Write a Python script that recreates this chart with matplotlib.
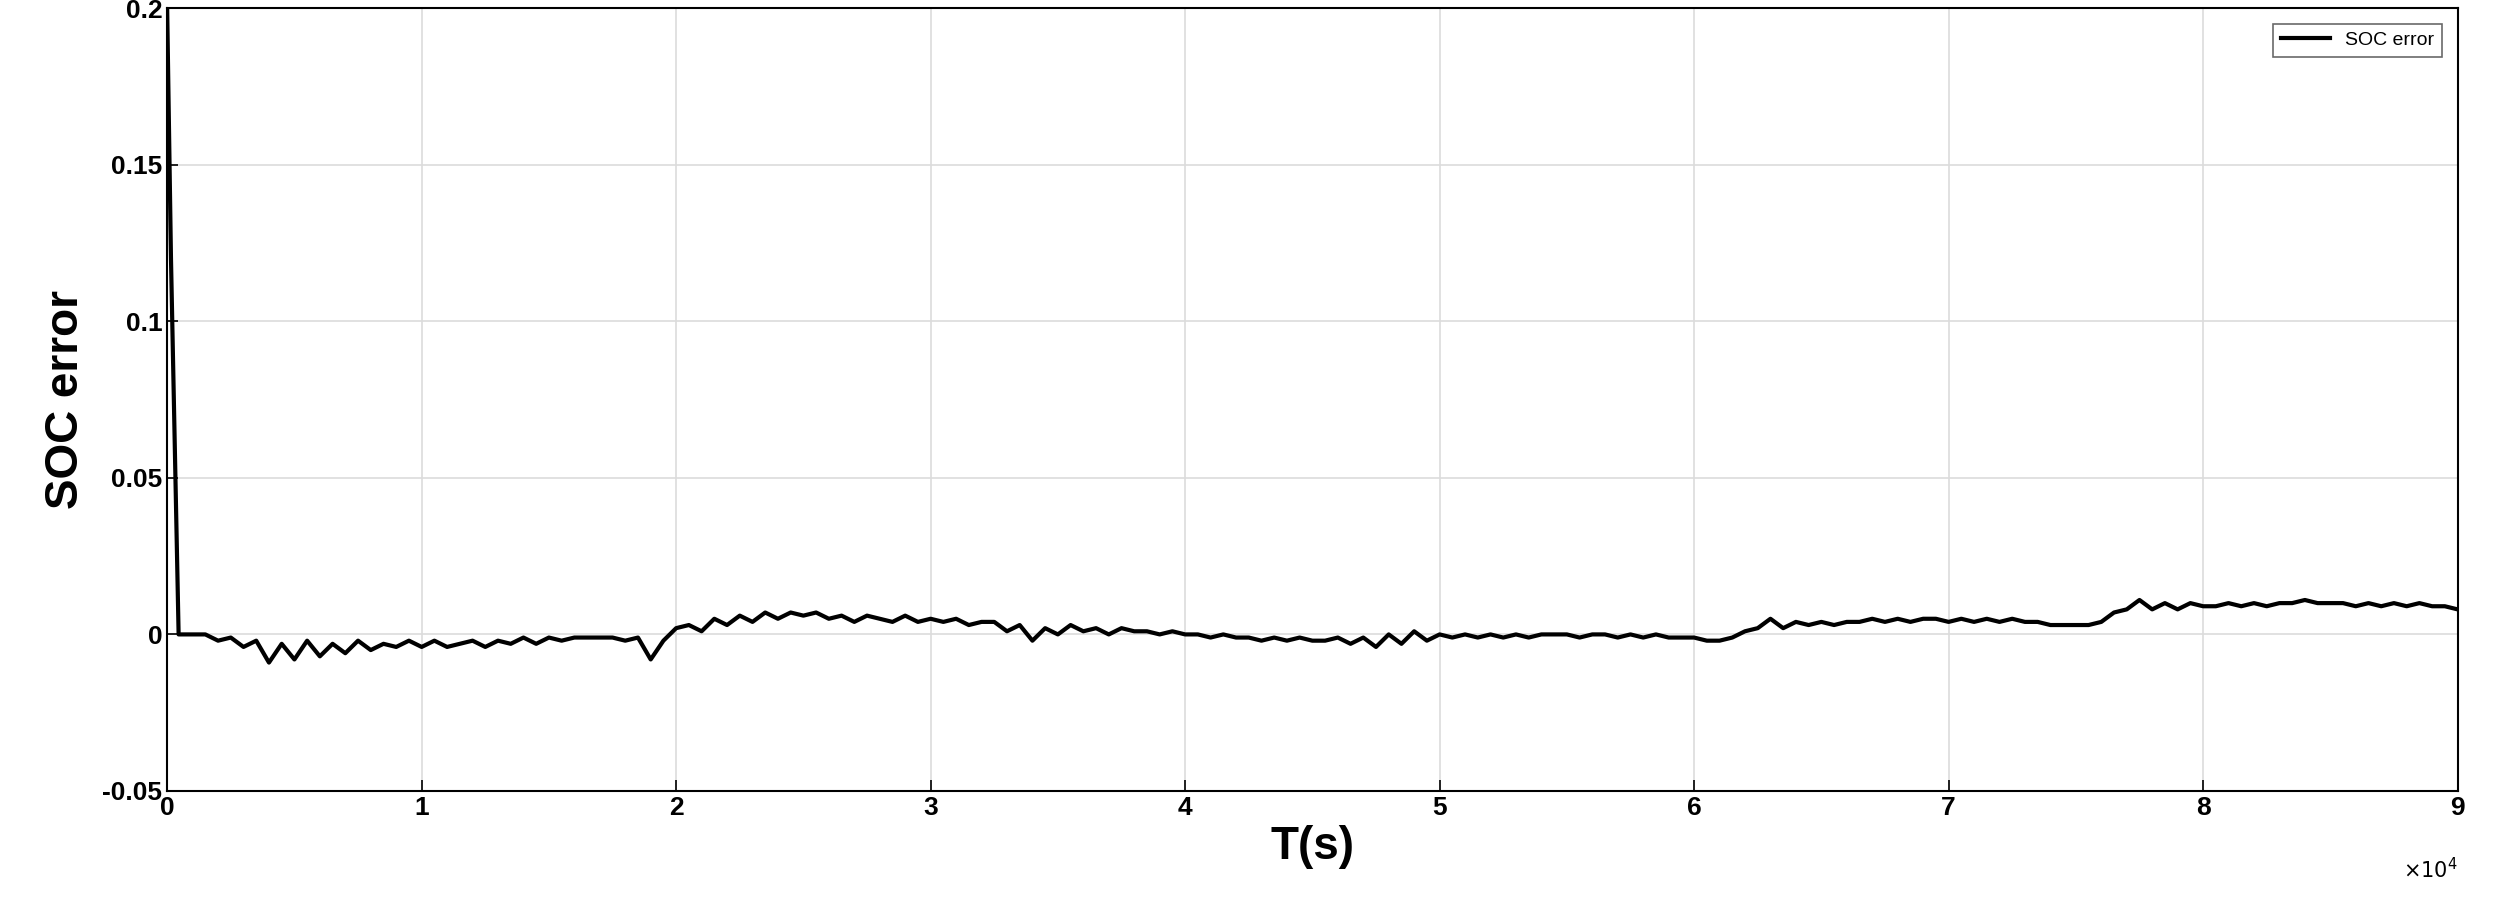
import matplotlib
matplotlib.use("Agg")
import matplotlib.pyplot as plt
import numpy as np

plt.rcParams['font.family'] = ['Liberation Sans', 'DejaVu Sans']

t_start = [0, 150, 450]
v_start = [0.2, 0.12, 0.0]
v_regular = [
    0, 0, 0, -0.002, -0.001, -0.004, -0.002, -0.009, -0.003, -0.008,
    -0.002, -0.007, -0.003, -0.006, -0.002, -0.005, -0.003, -0.004, -0.002, -0.004,
    -0.002, -0.004, -0.003, -0.002, -0.004, -0.002, -0.003, -0.001, -0.003, -0.001,
    -0.002, -0.001, -0.001, -0.001, -0.001, -0.002, -0.001, -0.008, -0.002, 0.002,
    0.003, 0.001, 0.005, 0.003, 0.006, 0.004, 0.007, 0.005, 0.007, 0.006,
    0.007, 0.005, 0.006, 0.004, 0.006, 0.005, 0.004, 0.006, 0.004, 0.005,
    0.004, 0.005, 0.003, 0.004, 0.004, 0.001, 0.003, -0.002, 0.002, 0.000,
    0.003, 0.001, 0.002, 0.000, 0.002, 0.001, 0.001, 0.000, 0.001, 0.000,
    0.000, -0.001, 0.000, -0.001, -0.001, -0.002, -0.001, -0.002, -0.001, -0.002,
    -0.002, -0.001, -0.003, -0.001, -0.004, 0.000, -0.003, 0.001, -0.002, 0.000,
    -0.001, 0.000, -0.001, 0.000, -0.001, 0.000, -0.001, 0.000, 0.000, 0.000,
    -0.001, 0.000, 0.000, -0.001, 0.000, -0.001, 0.000, -0.001, -0.001, -0.001,
    -0.002, -0.002, -0.001, 0.001, 0.002, 0.005, 0.002, 0.004, 0.003, 0.004,
    0.003, 0.004, 0.004, 0.005, 0.004, 0.005, 0.004, 0.005, 0.005, 0.004,
    0.005, 0.004, 0.005, 0.004, 0.005, 0.004, 0.004, 0.003, 0.003, 0.003,
    0.003, 0.004, 0.007, 0.008, 0.011, 0.008, 0.010, 0.008, 0.010, 0.009,
    0.009, 0.010, 0.009, 0.010, 0.009, 0.010, 0.010, 0.011, 0.010, 0.010,
    0.010, 0.009, 0.010, 0.009, 0.010, 0.009, 0.010, 0.009, 0.009, 0.008,
]
t_regular = [500 * (i + 1) for i in range(len(v_regular))]
t = np.array(t_start + t_regular)
v = np.array(v_start + v_regular)

xticks = [0, 1, 2, 3, 4, 5, 6, 7, 8, 9]
yticks = [-0.05, 0, 0.05, 0.1, 0.15, 0.2]
ytick_labels = ['-0.05', '0', '0.05', '0.1', '0.15', '0.2']

fig = plt.figure(figsize=(24.95, 9.24), dpi=100)
ax = fig.add_axes([0.067, 0.144, 0.918, 0.847])
ax.plot(t / 1e4, v, color='black', lw=3, label='SOC error')
ax.set_xlim(0, 9)
ax.set_ylim(-0.05, 0.2)
ax.set_xticks(xticks)
ax.set_xticklabels([str(x) for x in xticks])
ax.set_yticks(yticks)
ax.set_yticklabels(ytick_labels)
ax.grid(True, color='#dcdcdc', lw=1.2)
ax.set_axisbelow(True)
ax.tick_params(direction='in', length=8, labelsize=19, width=1.2)
for lab in ax.get_xticklabels() + ax.get_yticklabels():
    lab.set_fontweight('bold')
for s in ax.spines.values():
    s.set_linewidth(1.5)
ax.set_xlabel('T(s)', fontsize=33, labelpad=4, fontweight='semibold')
ax.set_ylabel('SOC error', fontsize=33, labelpad=10, fontweight='semibold')
ax.text(1.0, -0.085, r'$\times10^{4}$', transform=ax.transAxes, ha='right', va='top', fontsize=15)
leg = ax.legend(loc='upper right', fontsize=14, fancybox=False, edgecolor='#444444',
                handlelength=2.5, borderaxespad=0.8)
leg.get_frame().set_linewidth(1.2)
fig.savefig('out.png', dpi=100)
